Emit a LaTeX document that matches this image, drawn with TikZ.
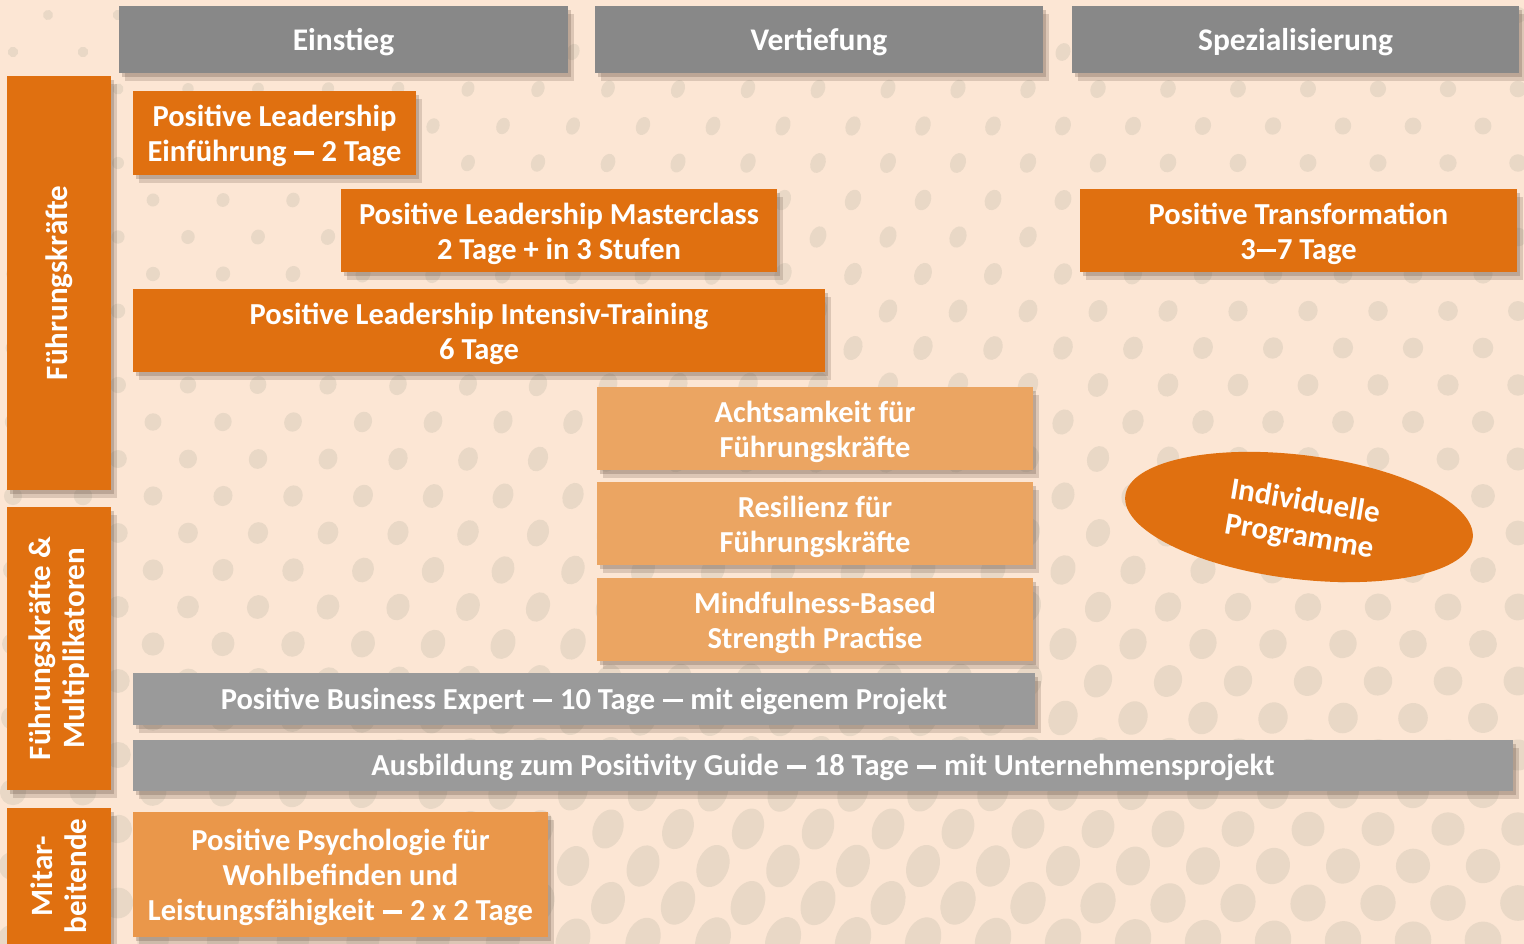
\documentclass[tikz,border=0pt]{standalone}
\usepackage{fontspec}
\setmainfont{Carlito}
\usetikzlibrary{shadows,shapes.geometric}
\definecolor{bgc}{HTML}{FCE6D4}
\definecolor{dotc}{HTML}{E9D8C6}
\definecolor{orng}{HTML}{E07010}
\definecolor{lorng}{HTML}{EBA562}
\definecolor{porng}{HTML}{EA974A}
\definecolor{ghead}{HTML}{888888}
\definecolor{gbar}{HTML}{9A9A9A}
\definecolor{shc}{HTML}{5E4A3C}
\newcommand{\dd}{\hspace{0.03em}\rule[0.22em]{0.64em}{0.115em}\hspace{0.03em}}
\tikzset{
  sh/.style={general shadow={shadow xshift=3pt,shadow yshift=-4pt,opacity=0.25,fill=shc},
             general shadow={shadow xshift=6pt,shadow yshift=-8pt,opacity=0.2,fill=shc}},
  box/.style={rectangle,inner sep=0pt,sh},
  obox/.style={box,fill=orng},
  lbox/.style={box,fill=lorng},
  pbox/.style={box,fill=porng},
  hbox/.style={box,fill=ghead},
  gbox/.style={box,fill=gbar},
  btxt/.style={text=white,align=center,inner sep=0pt,font=\bfseries\fontsize{30.5}{35}\selectfont},
  htxt/.style={btxt,font=\bfseries\fontsize{31.5}{35}\selectfont},
  labtxt/.style={text=white,align=center,rotate=90,font=\bfseries\fontsize{31}{34}\selectfont},
}
\begin{document}
\begin{tikzpicture}[x=1pt,y=-1pt]
\useasboundingbox (0,0) rectangle (1524,944);
\fill[bgc] (0,0) rectangle (1524,944);
\begin{scope}
\clip (0,0) rectangle (1524,944);
\foreach \j in {-1,...,26}{
  \foreach \i in {-14,...,22}{
    \pgfmathsetmacro\px{13+70*\i+35*\j}
    \pgfmathsetmacro\py{52+37*\j}
    \pgfmathsetmacro\inside{(\px>-30)&&(\px<1560)?1:0}
    \ifdim\inside pt>0.5pt
      \pgfmathsetmacro\fx{\px/1524}
      \pgfmathsetmacro\fy{max(\py,0)/944}
      \pgfmathsetmacro\w{10+21*(\fy)^1.5+6*\fx}
      \pgfmathsetmacro\e{1+0.4*(sin(180*\fx))^2}
      \fill[dotc] (\px,\py) ellipse [x radius=0.5*\w, y radius=0.5*\w*\e, rotate=-22];
    \fi
  }
}
\end{scope}
% headers
\node[hbox,minimum width=449,minimum height=67] (h1) at (343.5,39.5) {};
\node[htxt] (h1t) at ([yshift=-3pt]h1.center) {Einstieg};
\node[hbox,minimum width=448,minimum height=67] (h2) at (819,39.5) {};
\node[htxt] (h2t) at ([yshift=-3pt]h2.center) {Vertiefung};
\node[hbox,minimum width=447,minimum height=67] (h3) at (1295.5,39.5) {};
\node[htxt] (h3t) at ([yshift=-3pt]h3.center) {Spezialisierung};
% left labels
\node[obox,minimum width=104,minimum height=414] (l1) at (59,283) {};
\node[labtxt] (l1t) at (l1.center) {Führungskräfte};
\node[obox,minimum width=104,minimum height=283] (l2) at (59,648.5) {};
\node[labtxt] (l2t) at (l2.center) {Führungskräfte \&\\Multiplikatoren};
\node[obox,minimum width=104,minimum height=150] (l3) at (59,883) {};
\node[labtxt] (l3t) at (59,876) {Mitar-\\beitende};
% program boxes
\node[obox,minimum width=283,minimum height=84] (einf) at (274.5,133) {};
\node[btxt] (einft) at ([yshift=-3pt]einf.center) {Positive Leadership\\Einführung \dd{} 2 Tage};
\node[obox,minimum width=436,minimum height=83] (master) at (559,230.5) {};
\node[btxt] (mastert) at ([yshift=-3pt]master.center) {Positive Leadership Masterclass\\2 Tage + in 3 Stufen};
\node[obox,minimum width=437,minimum height=83] (trans) at (1298.5,230.5) {};
\node[btxt] (transt) at ([yshift=-3pt]trans.center) {Positive Transformation\\3\dd7 Tage};
\node[obox,minimum width=692,minimum height=83] (intens) at (479,330.5) {};
\node[btxt] (intenst) at ([yshift=-3pt]intens.center) {Positive Leadership Intensiv-Training\\6 Tage};
\node[lbox,minimum width=436,minimum height=83] (acht) at (815,428.5) {};
\node[btxt] (achtt) at ([yshift=-3pt]acht.center) {Achtsamkeit für\\Führungskräfte};
\node[lbox,minimum width=436,minimum height=83] (resil) at (815,523.5) {};
\node[btxt] (resilt) at ([yshift=-3pt]resil.center) {Resilienz für\\Führungskräfte};
\node[lbox,minimum width=436,minimum height=83] (mind) at (815,619.5) {};
\node[btxt] (mindt) at ([yshift=-3pt]mind.center) {Mindfulness-Based\\Strength Practise};
\node[gbox,minimum width=902,minimum height=52] (pbe) at (584,699) {};
\node[btxt] (pbet) at ([yshift=-2pt]pbe.center) {Positive Business Expert \dd{} 10 Tage \dd{} mit eigenem Projekt};
\node[gbox,minimum width=1380,minimum height=51] (guide) at (823,765.5) {};
\node[btxt] (guidet) at ([yshift=-2pt]guide.center) {Ausbildung zum Positivity Guide \dd{} 18 Tage \dd{} mit Unternehmensprojekt};
\node[pbox,minimum width=415,minimum height=125] (psych) at (340.5,874.5) {};
\node[btxt] (psycht) at ([yshift=-3pt]psych.center) {Positive Psychologie für\\Wohlbefinden und\\Leistungsfähigkeit \dd{} 2 x 2 Tage};
% ellipse
\node[ellipse,fill=orng,inner sep=0pt,minimum width=350,minimum height=124,rotate=-7] (indiv) at (1299,517) {};
\node[text=white,align=center,rotate=-9.5,font=\bfseries\fontsize{31}{35}\selectfont] (indivt) at (1302,520) {Individuelle\\Programme};
\end{tikzpicture}
\end{document}
